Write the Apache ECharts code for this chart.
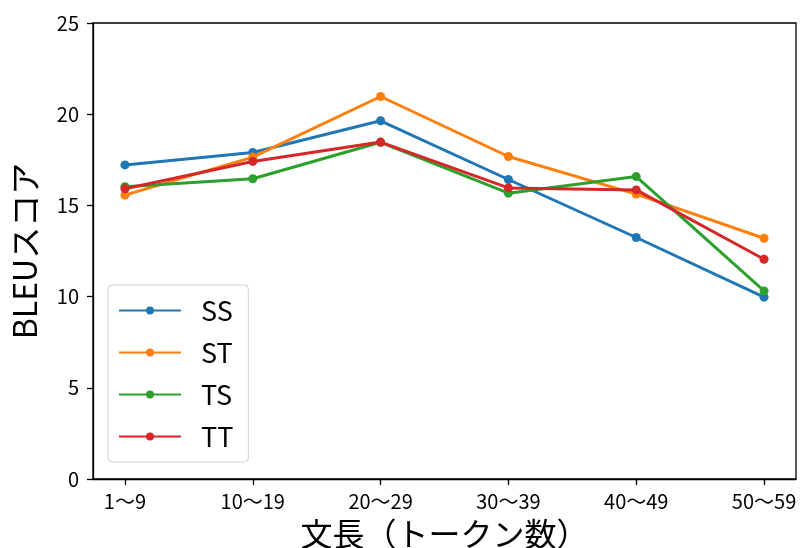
<!DOCTYPE html>
<html><head><meta charset="utf-8">
<script src="https://cdn.jsdelivr.net/npm/echarts@6/dist/echarts.min.js"></script>
<style>html,body{margin:0;padding:0;background:#fff;overflow:hidden}#c{width:803px;height:548px}</style>
</head><body><div id="c"></div>
<script>
const categories = ['1〜9', '10〜19', '20〜29', '30〜39', '40〜49', '50〜59'];
const SS = [17.22, 17.9, 19.64, 16.42, 13.24, 9.97];
const ST = [15.56, 17.65, 20.97, 17.68, 15.62, 13.2];
const TS = [16.02, 16.46, 18.46, 15.67, 16.58, 10.31];
const TT = [15.91, 17.41, 18.47, 15.96, 15.85, 12.05];
const yTicks = [0, 5, 10, 15, 20, 25];
const seriesNames = ['SS', 'ST', 'TS', 'TT'];
const colors = ['#1f77b4', '#ff7f0e', '#2ca02c', '#d62728'];
const allData = [SS, ST, TS, TT];
const FONT = '"Noto Sans CJK JP", "Noto Sans", sans-serif';
const catIdx = categories.map((_, i) => i);

const chart = echarts.init(document.getElementById('c'), null, {renderer: 'canvas'});
chart.setOption({
  animation: false,
  backgroundColor: '#fff',
  textStyle: {fontFamily: FONT},
  grid: {left: 93, right: 7, top: 23, bottom: 69, show: true, borderColor: '#000', borderWidth: 1.3,
    containLabel: false, outerBoundsMode: 'none'},
  xAxis: {
    type: 'value', min: -0.25, max: 5.25,
    name: '文長（トークン数）', nameLocation: 'middle', nameGap: 39,
    nameTextStyle: {fontSize: 32, color: '#000', fontFamily: FONT},
    axisLine: {show: true, onZero: false, lineStyle: {color: '#000', width: 1.3}},
    axisTick: {show: true, length: 6, inside: false, lineStyle: {color: '#000', width: 1.3}, customValues: catIdx},
    axisLabel: {color: '#000', fontSize: 20, margin: 12, fontFamily: FONT, customValues: catIdx,
      formatter: v => categories[Math.round(v)] ?? ''},
    splitLine: {show: false}
  },
  yAxis: {
    type: 'value', min: yTicks[0], max: yTicks[yTicks.length - 1], interval: 5,
    name: 'BLEUスコア', nameLocation: 'middle', nameGap: 52,
    nameTextStyle: {fontSize: 32, color: '#000', fontFamily: FONT},
    axisLine: {show: true, onZero: false, lineStyle: {color: '#000', width: 1.3}},
    axisTick: {show: true, length: 6, inside: false, lineStyle: {color: '#000', width: 1.3}},
    axisLabel: {color: '#000', fontSize: 20, margin: 14, fontFamily: FONT},
    splitLine: {show: false}
  },
  legend: {
    orient: 'vertical', left: 108, top: 285,
    data: seriesNames,
    itemWidth: 62, itemHeight: 10, itemGap: 15,
    padding: [12, 15, 12, 10],
    backgroundColor: 'rgba(255,255,255,0.8)', borderColor: '#d0d0d0', borderWidth: 1, borderRadius: 4,
    textStyle: {fontSize: 27, color: '#000', fontFamily: FONT, padding: [0, 0, 0, 15]},
    lineStyle: {width: 2}
  },
  series: seriesNames.map((n, k) => ({
    name: n, type: 'line',
    data: allData[k].map((v, i) => [catIdx[i], v]),
    symbol: 'circle', symbolSize: 9, showSymbol: true,
    lineStyle: {width: 3, color: colors[k]},
    itemStyle: {color: colors[k]},
    z: 2 + k
  }))
});
</script></body></html>
